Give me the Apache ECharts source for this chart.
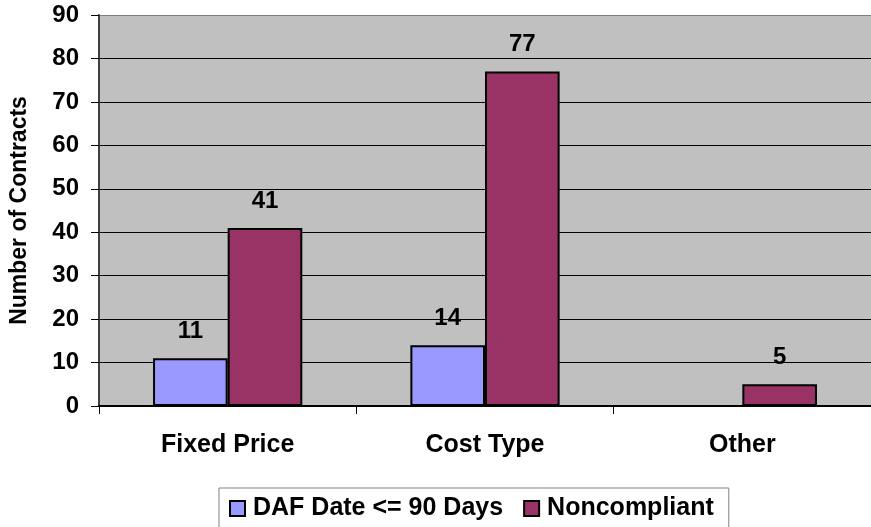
<!DOCTYPE html>
<html>
<head>
<meta charset="utf-8">
<script src="https://cdn.jsdelivr.net/npm/echarts@6/dist/echarts.min.js"></script>
<style>
  html, body { margin: 0; padding: 0; background: #ffffff; }
  #chart { width: 871px; height: 527px; }
</style>
</head>
<body>
<div id="chart"></div>
<script>
// Contract counts by contract type
const categories = ['Fixed Price', 'Cost Type', 'Other'];
const seriesNames = ['DAF Date <= 90 Days', 'Noncompliant'];
const dafWithin90 = [11, 14, null];
const noncompliant = [41, 77, 5];
const yTicks = [0, 10, 20, 30, 40, 50, 60, 70, 80, 90];

const FONT = 'Liberation Sans, Arial, sans-serif';
const chart = echarts.init(document.getElementById('chart'), null, { renderer: 'canvas' });

const labelStyle = {
  show: true,
  position: 'top',
  distance: 15,
  color: '#000',
  fontFamily: FONT,
  fontWeight: 'bold',
  fontSize: 24
};

chart.setOption({
  animation: false,
  backgroundColor: '#ffffff',
  grid: {
    left: 99, right: 0, top: 15, bottom: 121,
    show: true, backgroundColor: '#c0c0c0', borderWidth: 0
  },
  legend: {
    data: seriesNames,
    left: 219, top: 488,
    padding: [8, 15, 30, 10],
    itemGap: 20,
    itemWidth: 15, itemHeight: 15,
    icon: 'rect',
    borderColor: '#808080', borderWidth: 1,
    backgroundColor: '#ffffff',
    textStyle: { color: '#000', fontFamily: FONT, fontWeight: 'bold', fontSize: 25, padding: [0, 0, 0, 3] }
  },
  xAxis: {
    type: 'category',
    data: categories,
    axisLine: { show: true, lineStyle: { color: '#000', width: 2 } },
    axisTick: { show: true, length: 8, lineStyle: { color: '#000', width: 1 } },
    axisLabel: { margin: 27, color: '#000', fontFamily: FONT, fontWeight: 'bold', fontSize: 25 },
    splitLine: { show: false }
  },
  yAxis: {
    type: 'value',
    min: yTicks[0], max: yTicks[yTicks.length - 1], interval: 10,
    name: 'Number of Contracts',
    nameLocation: 'middle',
    nameGap: 68,
    nameTextStyle: { color: '#000', fontFamily: FONT, fontWeight: 'bold', fontSize: 23 },
    axisLine: { show: true, lineStyle: { color: '#404040', width: 2 } },
    axisTick: { show: true, length: 8, lineStyle: { color: '#000' } },
    axisLabel: { margin: 20, color: '#000', fontFamily: FONT, fontWeight: 'bold', fontSize: 24,
      formatter: v => String(v) },
    splitLine: { show: true, lineStyle: {
      color: ['#000', '#000', '#000', '#000', '#000', '#000', '#000', '#000', '#000', '#808080'],
      width: 1 } }
  },
  series: [
    {
      name: seriesNames[0], type: 'bar', data: dafWithin90,
      barGap: '0%', barCategoryGap: '42%',
      itemStyle: { color: '#9999ff', borderColor: '#000', borderWidth: 2 },
      label: labelStyle
    },
    {
      name: seriesNames[1], type: 'bar', data: noncompliant,
      barGap: '0%', barCategoryGap: '42%',
      itemStyle: { color: '#993366', borderColor: '#000', borderWidth: 2 },
      label: labelStyle
    }
  ]
});
</script>
</body>
</html>
